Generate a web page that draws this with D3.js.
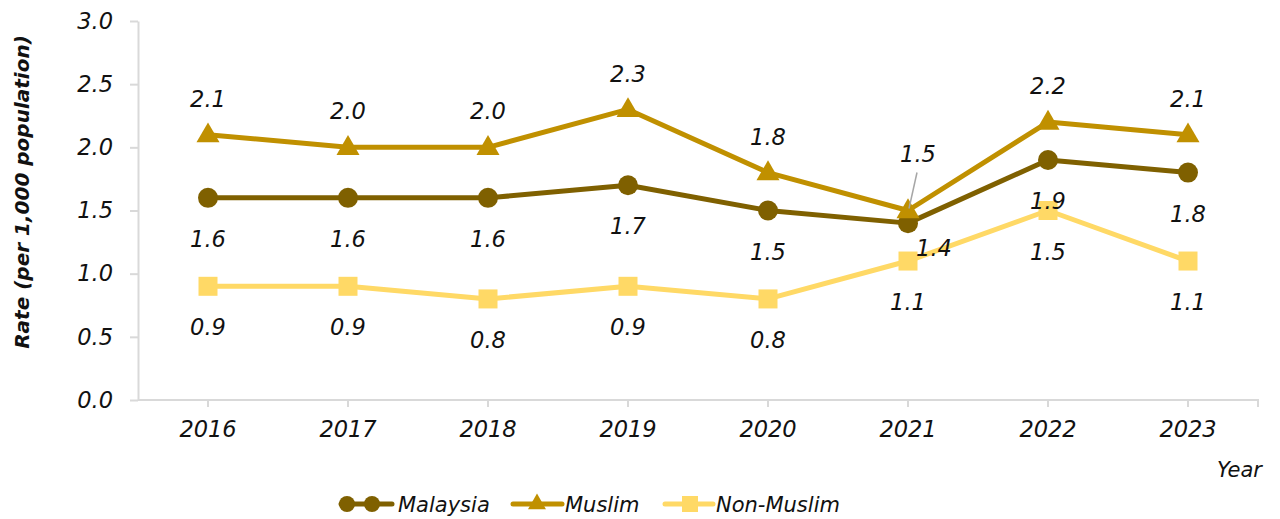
<!DOCTYPE html>
<html><head><meta charset="utf-8">
<script src="https://cdn.jsdelivr.net/npm/d3@7"></script>
<style>
html,body{margin:0;padding:0;background:#fff;}
text{font-family:"DejaVu Sans",sans-serif;font-style:italic;fill:#111;}
</style></head>
<body><svg id="c" width="1280" height="519"></svg>
<script>
const years = ["2016","2017","2018","2019","2020","2021","2022","2023"];
const malaysia = [1.6,1.6,1.6,1.7,1.5,1.4,1.9,1.8];
const muslim = [2.1,2.0,2.0,2.3,1.8,1.5,2.2,2.1];
const nonMuslim = [0.9,0.9,0.8,0.9,0.8,1.1,1.5,1.1];
const yTicks = [0,0.5,1.0,1.5,2.0,2.5,3.0];
const seriesNames = ["Malaysia","Muslim","Non-Muslim"];

const svg = d3.select("#c");
const x = d3.scaleBand().domain(years).range([138,1258]).padding(0);
const cx = d => x(d) + x.bandwidth()/2;
const y = d3.scaleLinear().domain([0,3]).range([400,21]);
const axisCol = "#d9d9d9";

// axes
const gx = svg.append("g").attr("transform","translate(0,400)")
  .call(d3.axisBottom(x).tickSize(7).tickSizeOuter(7).tickPadding(14));
gx.selectAll("path,line").attr("stroke",axisCol).attr("stroke-width",2);
gx.selectAll("text").attr("font-size",22.5).attr("font-family","DejaVu Sans").attr("font-style","italic").attr("fill","#111");
gx.select(".domain").attr("d","M138,0H1258V7");

const gy = svg.append("g").attr("transform","translate(138,0)")
  .call(d3.axisLeft(y).tickValues(yTicks).tickFormat(d3.format(".1f")).tickSize(8).tickSizeOuter(0).tickPadding(17));
gy.selectAll("path,line").attr("stroke",axisCol).attr("stroke-width",2);
gy.selectAll("text").attr("font-size",22.5).attr("font-family","DejaVu Sans").attr("font-style","italic").attr("fill","#111");

svg.append("text").attr("transform","translate(29,192) rotate(-90)")
  .attr("text-anchor","middle").attr("font-size",20).attr("font-weight","bold").text("Rate (per 1,000 population)");
svg.append("text").attr("x",1262).attr("y",477).attr("text-anchor","end").attr("font-size",21).text("Year");

const series = [
  {name:seriesNames[0], vals:malaysia, color:"#7f6000", marker:"circle", dy:41},
  {name:seriesNames[1], vals:muslim, color:"#c09000", marker:"triangle", dy:-36},
  {name:seriesNames[2], vals:nonMuslim, color:"#ffd966", marker:"square", dy:41}
];
const line = d3.line().x((d,i)=>cx(years[i])).y(d=>y(d));
function marker(g, type, px, py, color){
  if(type==="circle") g.append("circle").attr("cx",px).attr("cy",py).attr("r",10).attr("fill",color);
  else if(type==="triangle") g.append("path").attr("d",d3.symbol(d3.symbolTriangle,230)()).attr("transform",`translate(${px},${py+1})`).attr("fill",color);
  else g.append("rect").attr("x",px-9.5).attr("y",py-9.5).attr("width",19).attr("height",19).attr("fill",color);
}
series.forEach(s=>{
  const g = svg.append("g");
  g.append("path").datum(s.vals).attr("d",line).attr("fill","none").attr("stroke",s.color).attr("stroke-width",5).attr("stroke-linejoin","round");
  s.vals.forEach((v,i)=>marker(g,s.marker,cx(years[i]),y(v),s.color));
});
// labels
const lg = svg.append("g");
series.forEach((s,si)=>{
  s.vals.forEach((v,i)=>{
    let lx = cx(years[i]), ly = y(v)+s.dy;
    if(years[i]==="2021" && si===0){ lx += 26; ly = y(v)+25; }
    if(years[i]==="2021" && si===1){ lx += 10; ly = y(v)-57; }
    lg.append("text").attr("x",lx).attr("y",ly).attr("dy","0.36em").attr("text-anchor","middle").attr("font-size",22.5).text(v.toFixed(1));
  });
});
// leader line for Muslim 2021
{
  const i = years.indexOf("2021");
  lg.append("line").attr("x1",cx(years[i])+9).attr("y1",y(muslim[i])-38).attr("x2",cx(years[i])+1).attr("y2",y(muslim[i])-2)
    .attr("stroke","#a6a6a6").attr("stroke-width",1.5);
}
// legend
const leg = svg.append("g");
const legY = 504;
const legItems = [
  {s:series[0], x1:341, x2:392, mk:[347,372], tx:398},
  {s:series[1], x1:513, x2:562, mk:[537], tx:565},
  {s:series[2], x1:665, x2:713, mk:[690], tx:716}
];
legItems.forEach(it=>{
  leg.append("line").attr("x1",it.x1).attr("x2",it.x2).attr("y1",legY).attr("y2",legY).attr("stroke",it.s.color).attr("stroke-width",5).attr("stroke-linecap","round");
  it.mk.forEach(m=>{
    if(it.s.marker==="circle") leg.append("circle").attr("cx",m).attr("cy",legY).attr("r",8).attr("fill",it.s.color);
    else if(it.s.marker==="triangle") leg.append("path").attr("d",d3.symbol(d3.symbolTriangle,140)()).attr("transform",`translate(${m},${legY})`).attr("fill",it.s.color);
    else leg.append("rect").attr("x",m-8).attr("y",legY-8).attr("width",16).attr("height",16).attr("fill",it.s.color);
  });
  leg.append("text").attr("x",it.tx).attr("y",legY).attr("dy","0.36em").attr("font-size",21).text(it.s.name);
});
</script></body></html>
